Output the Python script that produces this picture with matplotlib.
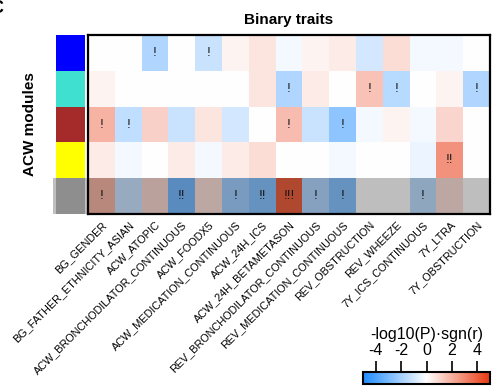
import numpy as np
import matplotlib
matplotlib.use('Agg')
import matplotlib.pyplot as plt
from matplotlib.colors import LinearSegmentedColormap, ListedColormap
from matplotlib.patches import Rectangle

plt.rcParams['font.family'] = ['Liberation Sans', 'DejaVu Sans']
plt.rcParams['axes.unicode_minus'] = False

traits = ['BG_GENDER', 'BG_FATHER_ETHNICITY_ASIAN', 'ACW_ATOPIC',
          'ACW_BRONCHODILATOR_CONTINUOUS', 'ACW_FOODX5', 'ACW_MEDICATION_CONTINUOUS',
          'ACW_24H_ICS', 'ACW_24H_BETAMETASON', 'REV_BRONCHODILATOR_CONTINUOUS',
          'REV_MEDICATION_CONTINUOUS', 'REV_OBSTRUCTION', 'REV_WHEEZE',
          '7Y_ICS_CONTINUOUS', '7Y_LTRA', '7Y_OBSTRUCTION']
modules = ['blue', 'turquoise', 'brown', 'yellow', 'grey']
module_colors = ['#0000FF', '#40E0D0', '#A52A2A', '#FFFF00', '#BEBEBE']

# -log10(P) * sgn(r), one row per module
blue_vals = [0, 0, -1.75, 0, -1.2, 0.27, 0.65, -0.25, 0.27, 0.5, -0.95, 0.85, -0.25, -0.25, 0]
turq_vals = [0.27, 0, 0, 0, 0, 0, 0.65, -1.75, 0.5, 0, 1.5, -1.6, 0, 0.27, -1.75]
brown_vals = [1.9, -1.4, 1.15, -1.2, 0.65, -0.95, 0, 1.65, -1.2, -2.5, -0.25, 0.27, -0.25, 1.05, 0]
yellow_vals = [0.5, -0.25, 0, 0.5, -0.25, 0.5, 0.85, 0, 0, -0.25, 0, 0, -0.4, 2.7, 0]
grey_vals = [1.8, -1.15, 1.0, -3.0, 0.75, -2.05, -2.6, 3.95, -1.65, -2.6, 0, 0, -1.4, 0.75, 0]

blue_sig = ['', '', '!', '', '!', '', '', '', '', '', '', '', '', '', '']
turq_sig = ['', '', '', '', '', '', '', '!', '', '', '!', '!', '', '', '!']
brown_sig = ['!', '!', '', '', '', '', '', '!', '', '!', '', '', '', '', '']
yellow_sig = ['', '', '', '', '', '', '', '', '', '', '', '', '', '!!', '']
grey_sig = ['!', '', '', '!!', '', '!', '!!', '!!!', '!', '!', '', '', '!', '', '']

vals = np.array([blue_vals, turq_vals, brown_vals, yellow_vals, grey_vals])
sigs = [blue_sig, turq_sig, brown_sig, yellow_sig, grey_sig]

cmap = LinearSegmentedColormap.from_list('bwr2', ['#1E8CFF', '#FFFFFF', '#E8380F'])

W, H = 493, 387
fig = plt.figure(figsize=(W / 100, H / 100), dpi=100)

def fax(x0, y0, x1, y1):
    return fig.add_axes([x0 / W, 1 - y1 / H, (x1 - x0) / W, (y1 - y0) / H])

ax = fax(88, 35, 490, 214)
im = ax.imshow(vals, cmap=cmap, vmin=-5, vmax=5, aspect='auto', interpolation='nearest')
for i in range(vals.shape[0]):
    for j in range(vals.shape[1]):
        if sigs[i][j]:
            ax.text(j, i, sigs[i][j], ha='center', va='center', fontsize=9.5, color='#1a1a1a')
ax.set_xticks(np.arange(len(traits)))
ax.set_xticklabels(traits, rotation=45, ha='right', va='top', rotation_mode='anchor', fontsize=7.8)
ax.tick_params(axis='x', length=0, pad=4)
ax.set_yticks([])
for s in ax.spines.values():
    s.set_linewidth(1.6)
ax.set_title('Binary traits', fontsize=11, fontweight='bold', pad=8)

mx = fax(56, 35, 85, 214)
mx.imshow(np.arange(len(modules)).reshape(-1, 1), cmap=ListedColormap(module_colors),
          aspect='auto', interpolation='nearest')
mx.set_xticks([])
mx.set_yticks([])
for s in mx.spines.values():
    s.set_visible(False)
mx.set_ylabel('ACW modules', fontsize=11, fontweight='bold', labelpad=14)

# highlight band over the grey module
row_h = (214 - 35) / 5
fig.add_artist(Rectangle((53 / W, 1 - 214 / H), (490 - 53) / W, row_h / H,
                         transform=fig.transFigure, facecolor='black', alpha=0.25,
                         edgecolor='none', zorder=10))

cax = fax(363, 372, 490, 384)
cb = fig.colorbar(im, cax=cax, orientation='horizontal', ticks=[-4, -2, 0, 2, 4])
cax.xaxis.set_ticks_position('top')
cax.xaxis.set_label_position('top')
cax.tick_params(length=8, width=1.2, labelsize=11.5, pad=2)
cb.outline.set_linewidth(1.5)
cax.set_xlabel('-log10(P)·sgn(r)', fontsize=11.5, labelpad=3)

fig.text(3 / W, 1.0, 'C', fontsize=13, fontweight='bold', ha='right', va='top')
fig.text(242 / W, 1 - 387 / H, 'Sample traits', fontsize=11, fontweight='bold',
         ha='center', va='top')

fig.savefig('out.png', dpi=100)
